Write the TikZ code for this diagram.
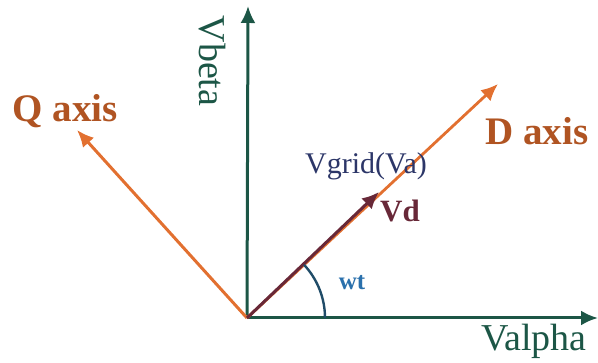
\documentclass[tikz,border=0pt]{standalone}
\usepackage{fontspec}
\setmainfont{Liberation Serif}
\usetikzlibrary{arrows.meta}
\definecolor{dqOrange}{RGB}{226,112,48}
\definecolor{dqBrown}{RGB}{176,84,34}
\definecolor{dqGreen}{RGB}{28,86,70}
\definecolor{dqNavy}{RGB}{44,54,104}
\definecolor{dqMaroon}{RGB}{104,40,56}
\definecolor{dqBlue}{RGB}{42,112,172}
\definecolor{dqArc}{RGB}{32,76,104}

\begin{document}
\begin{tikzpicture}[x=1pt,y=1pt]
\tikzset{
axis/.style={line width=3pt,-{Latex[length=17pt,width=15pt]}},
axlab/.style={font=\bfseries\fontsize{39}{41}\selectfont,text=dqBrown},
vlab/.style={font=\fontsize{38}{40}\selectfont,text=dqGreen}
}
\useasboundingbox (0,0) rectangle (598,363);
\coordinate (o) at (247,45);
\coordinate (alpha) at (598,45);
\coordinate (beta) at (248,357);
\coordinate (d) at (498,279);
\coordinate (q) at (77,233);
\coordinate (vd) at (379,171);
\draw[axis,dqGreen] (o) -- (alpha);
\draw[axis,dqGreen] (o) -- (beta);
\draw[axis,dqOrange] (o) -- (q);
\draw[axis,dqOrange,line width=2.8pt] (o) -- (d);
\draw[axis,dqMaroon,line width=3pt] (o) -- (vd);
\draw[dqArc,line width=2.4pt] ([shift={(0:78)}]o) arc[start angle=0,end angle=43,radius=78];
\node[axlab] (qlab) at (65,252) {Q axis};
\node[axlab] (dlab) at (537,232) {D axis};
\node[vlab] (alab) at (534,22) {Valpha};
\node[vlab,rotate=-90] (blab) at (212,302) {Vbeta};
\node[font=\fontsize{30}{32}\selectfont,text=dqNavy] (glab) at (366,197) {Vgrid(Va)};
\node[font=\bfseries\fontsize{31}{33}\selectfont,text=dqMaroon] (vdlab) at (400,152) {Vd};
\node[font=\bfseries\fontsize{25}{27}\selectfont,text=dqBlue] (wlab) at (352,80) {wt};
\end{tikzpicture}
\end{document}
